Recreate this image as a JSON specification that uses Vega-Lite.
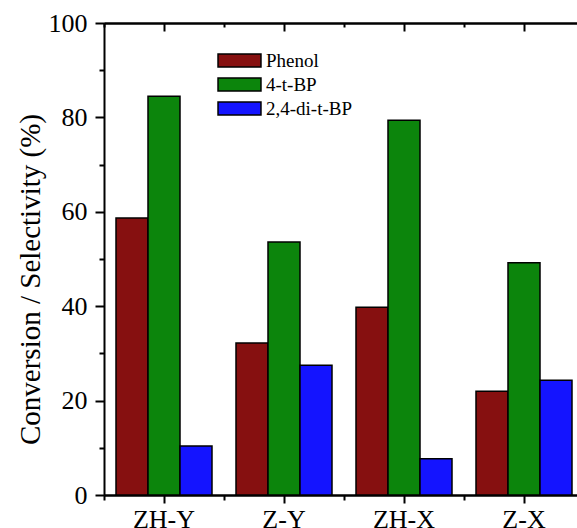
{
  "$schema": "https://vega.github.io/schema/vega-lite/v6.json",
  "width": 480,
  "height": 472,
  "autosize": "none",
  "padding": {"left": 104, "top": 23, "right": 0, "bottom": 33},
  "background": "white",
  "config": {
    "view": {"stroke": null},
    "font": "Liberation Serif",
    "axis": {
      "domainColor": "black",
      "domainWidth": 2,
      "ticks": true,
      "tickColor": "black",
      "tickWidth": 2,
      "labelColor": "black",
      "labelFont": "Liberation Serif",
      "labelFontSize": 26,
      "titleFont": "Liberation Serif",
      "titleColor": "black",
      "titleFontWeight": "normal",
      "grid": false,
      "zindex": 1
    },
    "legend": {"labelFont": "Liberation Serif", "labelColor": "black"}
  },
  "data": {
    "values": [
      {"catalyst": "ZH-Y", "series": "Phenol", "value": 58.7},
      {"catalyst": "ZH-Y", "series": "4-t-BP", "value": 84.5},
      {"catalyst": "ZH-Y", "series": "2,4-di-t-BP", "value": 10.4},
      {"catalyst": "Z-Y", "series": "Phenol", "value": 32.2},
      {"catalyst": "Z-Y", "series": "4-t-BP", "value": 53.6},
      {"catalyst": "Z-Y", "series": "2,4-di-t-BP", "value": 27.5},
      {"catalyst": "ZH-X", "series": "Phenol", "value": 39.8},
      {"catalyst": "ZH-X", "series": "4-t-BP", "value": 79.4},
      {"catalyst": "ZH-X", "series": "2,4-di-t-BP", "value": 7.7},
      {"catalyst": "Z-X", "series": "Phenol", "value": 22.0},
      {"catalyst": "Z-X", "series": "4-t-BP", "value": 49.2},
      {"catalyst": "Z-X", "series": "2,4-di-t-BP", "value": 24.3}
    ]
  },
  "layer": [
    {
      "mark": {"type": "bar", "stroke": "black", "strokeWidth": 1.5},
      "encoding": {
        "x": {
          "field": "catalyst",
          "type": "nominal",
          "sort": ["ZH-Y", "Z-Y", "ZH-X", "Z-X"],
          "scale": {"paddingInner": 0, "paddingOuter": 0},
          "axis": null
        },
        "xOffset": {
          "field": "series",
          "sort": ["Phenol", "4-t-BP", "2,4-di-t-BP"],
          "scale": {"paddingInner": 0, "paddingOuter": 0.375}
        },
        "y": {
          "field": "value",
          "type": "quantitative",
          "scale": {"domain": [0, 100], "nice": false},
          "axis": {
            "orient": "left",
            "title": "Conversion / Selectivity (%)",
            "titleFontSize": 29,
            "titlePadding": 3,
            "titleY": 256,
            "values": [0, 10, 20, 30, 40, 50, 60, 70, 80, 90, 100],
            "labelExpr": "datum.value % 20 === 0 ? datum.label : ''",
            "ticks": true,
            "tickSize": {"condition": {"test": "datum.value % 20 === 0", "value": 9}, "value": 5},
            "labelPadding": 8
          }
        },
        "fill": {
          "field": "series",
          "type": "nominal",
          "sort": ["Phenol", "4-t-BP", "2,4-di-t-BP"],
          "scale": {"domain": ["Phenol", "4-t-BP", "2,4-di-t-BP"], "range": ["#861010", "#0c850c", "#1414ff"]},
          "legend": {
            "orient": "none",
            "legendX": 126,
            "legendY": 28,
            "title": null,
            "padding": 0,
            "symbolType": "M-3,-0.9H3V0.9H-3Z",
            "symbolSize": 205,
            "symbolStrokeColor": "black",
            "symbolStrokeWidth": 1.5,
            "labelFont": "Liberation Serif",
            "labelFontSize": 19,
            "labelColor": "black",
            "labelOffset": 17,
            "rowPadding": 4
          }
        }
      }
    },
    {
      "mark": {"type": "point", "opacity": 0},
      "encoding": {
        "x": {
          "field": "catalyst",
          "type": "nominal",
          "sort": ["ZH-Y", "Z-Y", "ZH-X", "Z-X"],
          "axis": {"orient": "bottom", "title": null, "labelAngle": 0, "labelPadding": 3, "ticks": true, "bandPosition": 0.5, "tickSize": 8, "tickColor": "black", "tickWidth": 2, "domain": true}
        }
      }
    },
    {
      "mark": {"type": "point", "opacity": 0},
      "encoding": {
        "x": {
          "field": "catalyst",
          "type": "nominal",
          "sort": ["ZH-Y", "Z-Y", "ZH-X", "Z-X"],
          "axis": {"orient": "bottom", "title": null, "labels": false, "ticks": true, "bandPosition": 0, "tickSize": 5, "tickColor": "black", "tickWidth": 2, "domain": true}
        }
      }
    },
    {
      "mark": {"type": "point", "opacity": 0},
      "encoding": {
        "x": {
          "field": "catalyst",
          "type": "nominal",
          "sort": ["ZH-Y", "Z-Y", "ZH-X", "Z-X"],
          "axis": {"orient": "top", "title": null, "labels": false, "ticks": true, "bandPosition": 0.5, "tickSize": -8, "tickColor": "black", "tickWidth": 2, "domain": true}
        }
      }
    },
    {
      "mark": {"type": "point", "opacity": 0},
      "encoding": {
        "x": {
          "field": "catalyst",
          "type": "nominal",
          "sort": ["ZH-Y", "Z-Y", "ZH-X", "Z-X"],
          "axis": {"orient": "top", "title": null, "labels": false, "ticks": true, "bandPosition": 0, "tickSize": -4, "tickColor": "black", "tickWidth": 2, "domain": true}
        }
      }
    }
  ],
  "resolve": {"axis": {"x": "independent"}}
}
